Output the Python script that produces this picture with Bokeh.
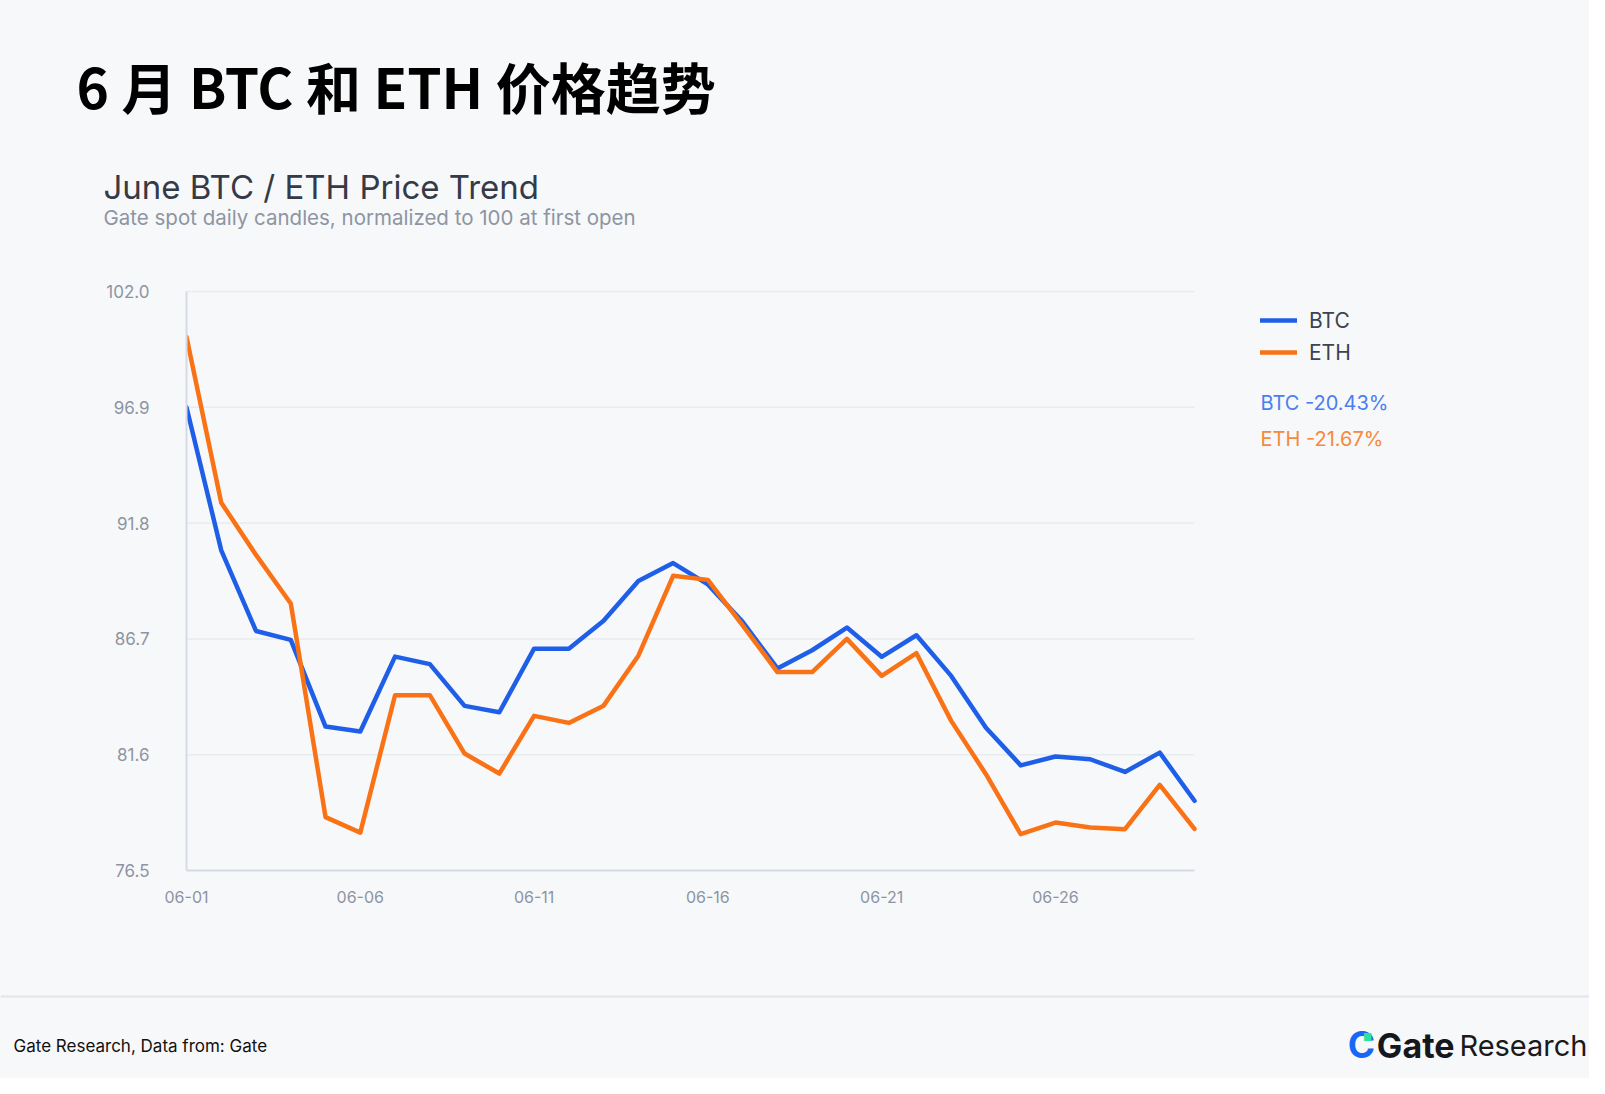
from bokeh.plotting import figure
from bokeh.layouts import column
from bokeh.models import (Label, Legend, LegendItem, FixedTicker, PrintfTickFormatter,
                          ColumnDataSource, Range1d, Span)
from bokeh.embed import file_html
from bokeh.resources import INLINE

# ---------------- data ----------------
days = list(range(1, 31))
btc = [96.9, 90.6, 87.05, 86.66, 82.84, 82.62, 85.92, 85.59, 83.75, 83.47,
       86.27, 86.27, 87.5, 89.25, 90.04, 89.1, 87.45, 85.4, 86.2, 87.2,
       85.91, 86.86, 85.07, 82.79, 81.13, 81.52, 81.4, 80.84, 81.69, 79.57]
eth = [100.0, 92.7, 90.4, 88.26, 78.85, 78.17, 84.22, 84.22, 81.65, 80.77,
       83.31, 83.0, 83.76, 85.96, 89.48, 89.3, 87.3, 85.24, 85.24, 86.7,
       85.07, 86.07, 83.09, 80.74, 78.1, 78.61, 78.39, 78.32, 80.27, 78.33]
x_ticks = [1, 6, 11, 16, 21, 26]
x_tick_labels = ["06-01", "06-06", "06-11", "06-16", "06-21", "06-26"]
y_ticks = [76.5, 81.6, 86.7, 91.8, 96.9, 102.0]
series_names = ["BTC", "ETH"]
pct_labels = ["BTC -20.43%", "ETH -21.67%"]

# ---------------- layout constants ----------------
W = 1589
TOP_H = 268
MAIN_H = 700
FOOT_H = 110
L = 186               # frame left
FRAME_H = 602         # frame height of the chart
PX_PER_DAY = 1008 / 29.0
PX_PER_UNIT = 579.0 / 25.5
FB = TOP_H + FRAME_H  # canvas y of frame bottom (=870)

BG = "#f7f8fa"
BLUE = "#1f5fe8"
ORANGE = "#f97316"


def bare(fig):
    fig.background_fill_color = BG
    fig.border_fill_color = BG
    fig.outline_line_color = None
    fig.axis.visible = False
    fig.grid.visible = False
    return fig


# ---------------- top: titles ----------------
p_top = bare(figure(width=W, height=TOP_H, output_backend="svg", toolbar_location=None,
                    min_border=0, frame_align=False,
                    x_range=Range1d(0, W), y_range=Range1d(TOP_H, 0)))


def tlab(fig, text, x, y, size, color, font="Inter", style="normal", align="left"):
    fig.add_layout(Label(x=x, y=y, text=text, text_font=font, text_font_size=size,
                         text_color=color, text_font_style=style,
                         text_align=align, text_baseline="middle"))


tlab(p_top, "6 月 BTC 和 ETH 价格趋势", 76, 84, "55px", "#000000",
     font="Noto Sans CJK SC", style="bold")
tlab(p_top, "June BTC / ETH Price Trend", 103, 186, "33px", "#353a46")
tlab(p_top, "Gate spot daily candles, normalized to 100 at first open", 103, 217, "20.5px", "#8d95a2")

# ---------------- main chart ----------------
x_end = 1 + (W - L) / PX_PER_DAY
y_end = 76.5 + FRAME_H / PX_PER_UNIT
p = figure(width=W, height=MAIN_H, output_backend="svg", toolbar_location=None,
           min_border_left=L, min_border_right=0, min_border_top=0,
           min_border_bottom=MAIN_H - FRAME_H, frame_align=False,
           x_range=Range1d(1, x_end), y_range=Range1d(76.5, y_end))
p.background_fill_color = BG
p.border_fill_color = BG
p.outline_line_color = None
p.grid.visible = False

# horizontal grid lines, limited to the date span
p.segment(x0=days[0], x1=days[-1], y0=y_ticks[1:], y1=y_ticks[1:],
          line_color="#e8ebef", line_width=1.5)

src = ColumnDataSource(dict(day=days, btc=btc, eth=eth))
r_btc = p.line("day", "btc", source=src, line_color=BLUE, line_width=4.5,
               line_join="round", line_cap="round")
r_eth = p.line("day", "eth", source=src, line_color=ORANGE, line_width=4.5,
               line_join="round", line_cap="round")

p.xaxis.ticker = FixedTicker(ticks=x_ticks)
p.xaxis.major_label_overrides = {t: s for t, s in zip(x_ticks, x_tick_labels)}
p.xaxis.bounds = (1, 30)
p.yaxis.ticker = FixedTicker(ticks=y_ticks)
p.yaxis.formatter = PrintfTickFormatter(format="%.1f")
p.yaxis.bounds = (76.5, 102.0)
for ax in (p.xaxis, p.yaxis):
    ax.axis_line_color = "#d5dbe4"
    ax.axis_line_width = 2
    ax.major_tick_line_color = None
    ax.minor_tick_line_color = None
    ax.major_label_text_color = "#8d94a1"
    ax.major_label_text_font = "Inter"
    ax.major_label_text_font_size = "16px"
p.yaxis.major_label_text_font_size = "17px"
p.yaxis.major_label_standoff = 31
p.xaxis.major_label_standoff = 14


def sx(tx):
    return tx - L


def sy(ty):
    return FB - ty


legend = Legend(items=[LegendItem(label=series_names[0], renderers=[r_btc]),
                       LegendItem(label=series_names[1], renderers=[r_eth])],
                location=(sx(1260), sy(365)), orientation="vertical")
legend.background_fill_alpha = 0
legend.border_line_color = None
legend.padding = 0
legend.margin = 0
legend.spacing = 6
legend.glyph_width = 37
legend.glyph_height = 26
legend.label_height = 26
legend.label_standoff = 12
legend.label_text_font = "Inter"
legend.label_text_font_size = "21px"
legend.label_text_color = "#3d4350"
p.add_layout(legend, "center")

for txt, ty, col in zip(pct_labels, [402, 438], ["#4a7ef2", "#f8883a"]):
    p.add_layout(Label(x=sx(1260), y=sy(ty), x_units="screen", y_units="screen",
                       text=txt, text_font="Inter", text_font_size="20px",
                       text_color=col, text_align="left", text_baseline="middle"))

# ---------------- footer ----------------
p_foot = bare(figure(width=W, height=FOOT_H, output_backend="svg", toolbar_location=None,
                     min_border=0, frame_align=False,
                     x_range=Range1d(0, W), y_range=Range1d(FOOT_H, 0)))
p_foot.add_layout(Span(location=28, dimension="width", line_color="#e2e5ea", line_width=2))
tlab(p_foot, "Gate Research, Data from: Gate", 13, 77, "17px", "#111111")
tlab(p_foot, "Research", 1587, 77, "29px", "#1a1a1a", align="right")
tlab(p_foot, "Gate", 1454, 77, "34px", "#15171c", style="bold", align="right")
tlab(p_foot, "C", 1361, 76, "37px", "#1769f5", style="bold", align="center")
tlab(p_foot, "■", 1367, 68, "10px", "#2fe0a0", align="center")

page = column(p_top, p, p_foot, spacing=0)
page.background = BG
open("out.html", "w").write(file_html(page, INLINE))
